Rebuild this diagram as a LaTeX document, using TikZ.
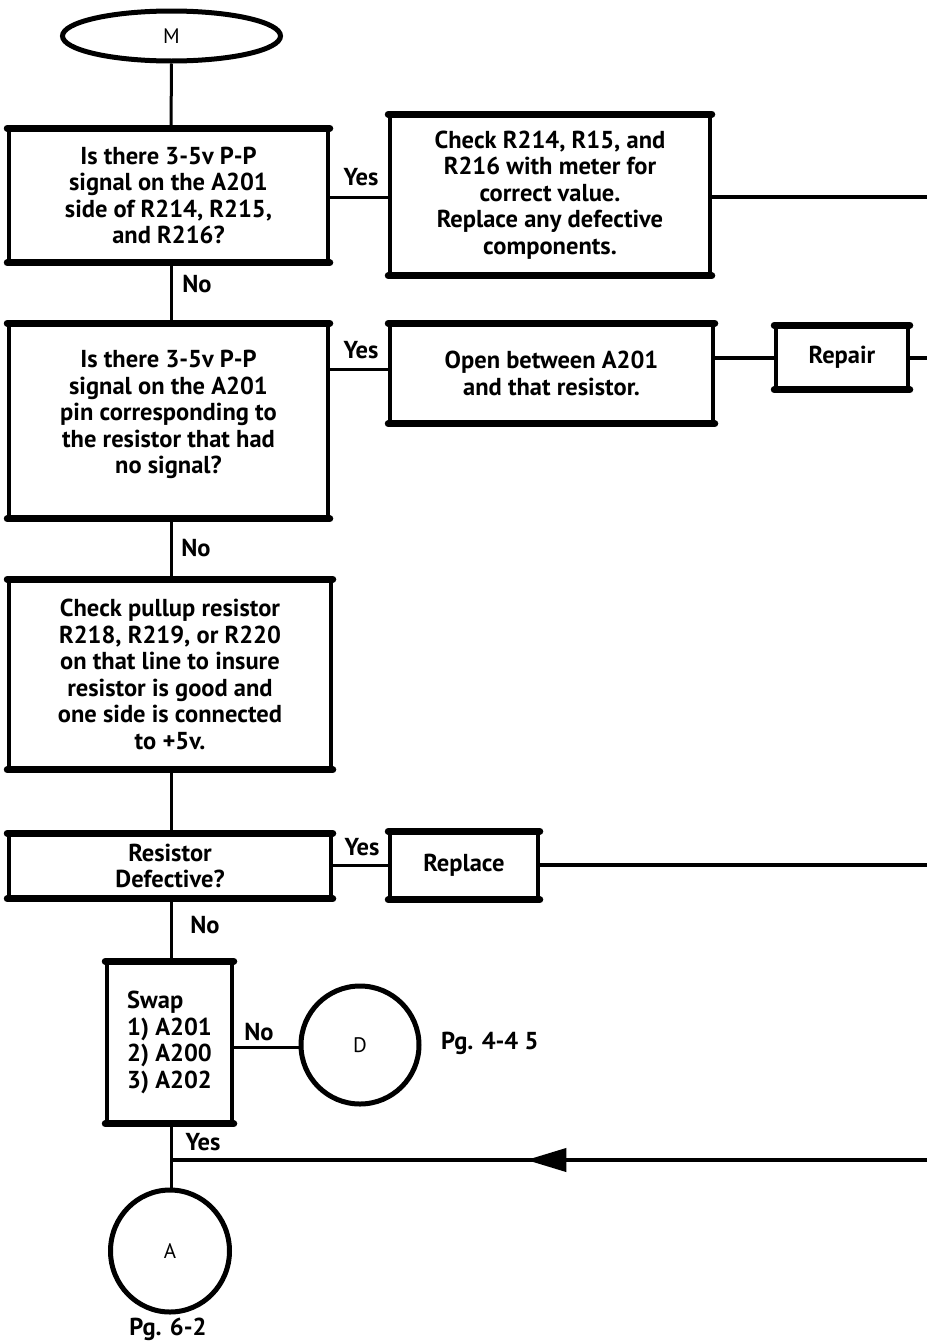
\documentclass[tikz,border=0pt]{standalone}
\usepackage{fontspec}
\setmainfont{PT Sans}
\usetikzlibrary{shapes.geometric,arrows.meta,decorations.markings}
\newcommand\bands[1]{\draw[band] (#1.north west) -- (#1.north east) (#1.south west) -- (#1.south east);}
\begin{document}
\begin{tikzpicture}[x=1pt,y=-1pt,
  txt/.style={font=\fontsize{24.5}{26.5}\selectfont\bfseries},
  box/.style={draw,line width=3.5pt,inner sep=0pt,align=center,txt},
  conn/.style={line width=3pt},
  wide/.style={line width=4pt},
  lbl/.style={txt,inner sep=0pt},
  term/.style={draw,line width=5pt,ellipse,inner sep=0pt,font=\fontsize{21}{23}\selectfont},
  band/.style={line width=7pt,line cap=round},
  midarrow/.style={postaction={decorate},decoration={markings,
     mark=at position 0.53 with {\arrow{Triangle[length=40pt,width=23pt]}}}}]
\useasboundingbox (0,0) rectangle (927,1344);
% nodes
\node[term,minimum width=218pt,minimum height=50pt] (M) at (171.5,36) {M};
\node[box,minimum width=319pt,minimum height=131pt] (b1) at (168.5,195.5)
  {Is there 3-5v P-P\\signal on the A201\\side of R214, R215,\\and R216?};
\node[box,minimum width=320pt,minimum height=158pt] (b2) at (550,195)
  {Check R214, R15, and\\R216 with meter for\\correct value.\\Replace any defective\\components.};
\node[box,minimum width=319pt,minimum height=192pt] (b3) at (168.5,421)
  {Is there 3-5v P-P\\signal on the A201\\pin corresponding to\\the resistor that had\\no signal?\\[-9pt]};
\node[box,minimum width=323pt,minimum height=97pt] (b4) at (551.5,373.5)
  {Open between A201\\and that resistor.};
\node[box,minimum width=132pt,minimum height=61pt] (rep) at (842,357.5) {Repair};
\node[box,minimum width=322pt,minimum height=187pt] (b5) at (170,674.5)
  {Check pullup resistor\\R218, R219, or R220\\on that line to insure\\resistor is good and\\one side is connected\\to +5v.};
\node[box,minimum width=322pt,minimum height=62pt] (b6) at (170,866)
  {Resistor\\Defective?};
\node[box,minimum width=148pt,minimum height=65pt] (repl) at (464,865.5) {Replace};
\node[box,minimum width=125pt,minimum height=159pt,align=left] (sw) at (169.5,1042.5)
  {Swap\\1) A201\\2) A200\\3) A202};
\node[term,circle,minimum size=118pt] (D) at (360,1045) {D};
\node[term,minimum width=119pt,minimum height=122pt] (A) at (170,1251) {A};
\bands{b1}\bands{b2}\bands{b3}\bands{b4}\bands{rep}\bands{b5}\bands{b6}\bands{repl}\bands{sw}
% labels
\node[lbl] (y1) at (361,177) {Yes};
\node[lbl] (n1) at (197,284) {No};
\node[lbl] (y2) at (361,350) {Yes};
\node[lbl] (n2) at (196,548) {No};
\node[lbl] (y3) at (362,847) {Yes};
\node[lbl] (n3) at (205,925) {No};
\node[lbl] (n4) at (259,1032) {No};
\node[lbl] (y4) at (203,1142) {Yes};
\node[lbl,anchor=west] (p1) at (441,1043) {Pg. 4-4 5};
\node[lbl] (p2) at (168,1329) {Pg. 6-2};
% edge coordinates
\coordinate (r1) at (927,197);
\coordinate (r2) at (927,358);
\coordinate (r3) at (927,865);
\coordinate (r4) at (927,1160);
\coordinate (t) at (171,0);
\coordinate (e3) at (0,369);
\coordinate (e7) at (0,1047);
% connectors
\draw[conn] (M.south) -- (t |- b1.north);
\draw[conn] (b1.east |- r1) -- (b2.west |- r1);
\draw[wide] (b2.east |- r1) -- (r1);
\draw[conn] (t |- b1.south) -- (t |- b3.north);
\draw[conn] (b3.east |- e3) -- (b4.west |- e3);
\draw[wide] (b4.east |- r2) -- (rep.west |- r2);
\draw[wide] (rep.east |- r2) -- (r2);
\draw[conn] (t |- b3.south) -- (t |- b5.north);
\draw[conn] (t |- b5.south) -- (t |- b6.north);
\draw[conn] (b6.east |- r3) -- (repl.west |- r3);
\draw[wide] (repl.east |- r3) -- (r3);
\draw[conn] (t |- b6.south) -- (t |- sw.north);
\draw[conn] (sw.east |- e7) -- (D.west |- e7);
\draw[conn] (t |- sw.south) -- (t |- A.north);
\draw[wide,midarrow] (r4) -- (r4 -| t);
\end{tikzpicture}
\end{document}
